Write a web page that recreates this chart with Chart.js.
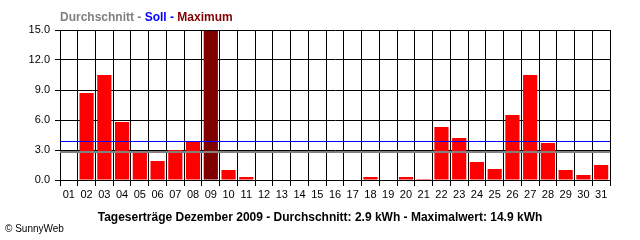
<!DOCTYPE html>
<html><head><meta charset="utf-8">
<script src="https://cdn.jsdelivr.net/npm/chart.js@4/dist/chart.umd.min.js"></script>
<style>html,body{margin:0;padding:0;background:#fff}#wrap{width:640px;height:240px}</style>
</head><body><div id="wrap"><canvas id="c" width="640" height="240"></canvas></div>
<script>
// ---- data ----
const days = ['01','02','03','04','05','06','07','08','09','10','11','12','13','14','15','16','17','18','19','20','21','22','23','24','25','26','27','28','29','30','31'];
const yields = [0, 8.7, 10.5, 5.8, 2.8, 1.9, 3.0, 3.9, 14.9, 1.0, 0.3, 0, 0, 0, 0, 0, 0, 0.3, 0, 0.3, 0.1, 5.3, 4.2, 1.8, 1.1, 6.5, 10.5, 3.7, 1.0, 0.5, 1.5];
const yTicks = [0, 3, 6, 9, 12, 15];
const averageLine = 2.8;   // Durchschnitt (grey)
const targetLine = 3.9;    // Soll (blue)
const legendParts = [['Durchschnitt - ', '#808080'], ['Soll - ', '#0000ff'], ['Maximum', '#800000']];
const footerTitle = 'Tageserträge Dezember 2009 - Durchschnitt: 2.9 kWh - Maximalwert: 14.9 kWh';
const copyright = '\u00A9 SunnyWeb';

const maxVal = Math.max(...yields);
const barColors = yields.map(v => v === maxVal ? '#800000' : '#ff0000');

const refLines = {
  id: 'refLines',
  afterDatasetsDraw(chart) {
    const {ctx, chartArea: a, scales: {y}} = chart;
    const draw = (val, color, w) => {
      const py = Math.round(y.getPixelForValue(val)) + (w % 2 ? 0.5 : 0);
      ctx.save(); ctx.strokeStyle = color; ctx.lineWidth = w;
      ctx.beginPath(); ctx.moveTo(a.left, py); ctx.lineTo(a.right, py); ctx.stroke(); ctx.restore();
    };
    draw(averageLine, '#808080', 2);
    draw(targetLine, '#0000ff', 1);
  },
  afterDraw(chart) {
    const ctx = chart.ctx;
    ctx.save();
    ctx.textBaseline = 'alphabetic';
    ctx.font = 'bold 12px "Liberation Sans", Arial, sans-serif';
    let x = 60;
    for (const [t, c] of legendParts) { ctx.fillStyle = c; ctx.fillText(t, x, 21); x += ctx.measureText(t).width; }
    ctx.fillStyle = '#000';
    ctx.font = 'bold 12px "Liberation Sans", Arial, sans-serif';
    ctx.textAlign = 'center';
    ctx.fillText(footerTitle, 320, 221);
    ctx.textAlign = 'left';
    ctx.font = '10px "Liberation Sans", Arial, sans-serif';
    ctx.fillText(copyright, 5, 232);
    ctx.restore();
  }
};

new Chart(document.getElementById('c'), {
  type: 'bar',
  data: { labels: days, datasets: [{ data: yields, backgroundColor: barColors, borderWidth: 0, barPercentage: 0.8, categoryPercentage: 1.0 }] },
  options: {
    responsive: false, animation: false, devicePixelRatio: 1,
    layout: { padding: { top: 30, right: 30, left: 0, bottom: 0 } },
    plugins: { legend: { display: false }, tooltip: { enabled: false } },
    scales: {
      x: {
        offset: true,
        grid: { offset: true, color: '#000', lineWidth: 1, tickLength: 6, drawTicks: true },
        border: { color: '#000', width: 1 },
        ticks: { color: '#000', font: { family: '"Liberation Sans", Arial, sans-serif', size: 11 }, padding: 2, autoSkip: false, maxRotation: 0 },
        afterFit(s) { s.height = 60; }
      },
      y: {
        min: 0, max: 15,
        afterBuildTicks(s) { s.ticks = yTicks.map(v => ({ value: v })); },
        grid: { color: '#000', lineWidth: 1, tickLength: 5 },
        border: { color: '#000', width: 1 },
        ticks: { color: '#000', font: { family: '"Liberation Sans", Arial, sans-serif', size: 11 }, padding: 5, callback: v => Number(v).toFixed(1) },
        afterFit(s) { s.width = 60; }
      }
    }
  },
  plugins: [refLines]
});
</script>
</body></html>
